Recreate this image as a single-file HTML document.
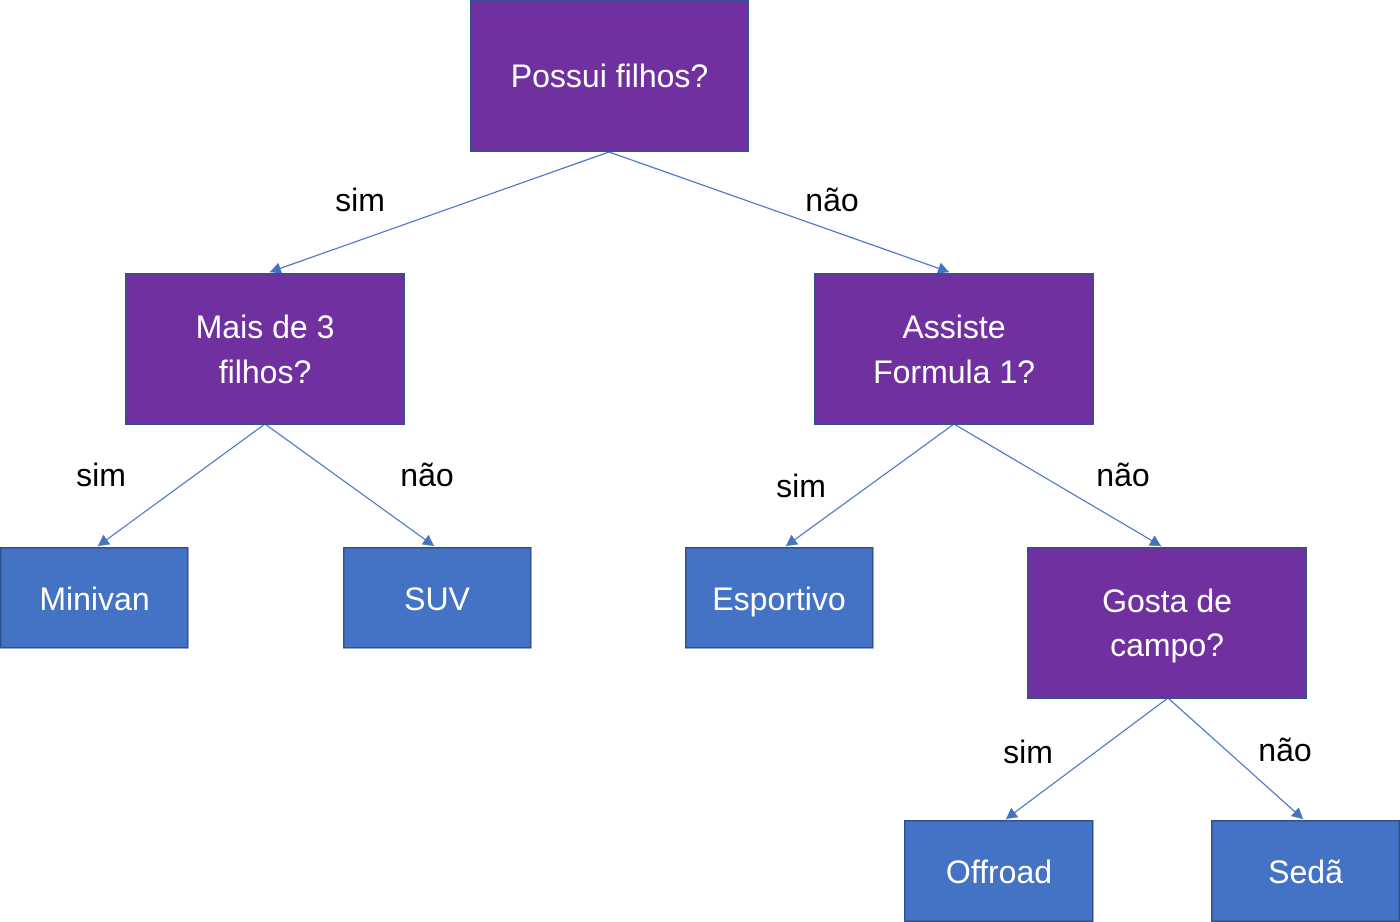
<!DOCTYPE html>
<html>
<head>
<meta charset="utf-8">
<style>
  html, body { margin: 0; padding: 0; background: #ffffff; }
  svg { display: block; }
  .box-p { fill: #7030A0; stroke: #2F528F; stroke-width: 1.5; }
  .box-b { fill: #4472C4; stroke: #2F528F; stroke-width: 1.5; }
  .t { font-family: "Liberation Sans", sans-serif; font-size: 32px; fill: #ffffff; text-anchor: middle; }
  .l { font-family: "Liberation Sans", sans-serif; font-size: 32px; fill: #000000; text-anchor: middle; }
  .e { stroke: #4472C4; stroke-width: 1.2; fill: none; }
</style>
</head>
<body>
<svg width="1400" height="922" viewBox="0 0 1400 922" xmlns="http://www.w3.org/2000/svg">
  <defs>
    <marker id="ah" markerWidth="12" markerHeight="12" refX="11" refY="6" orient="auto" markerUnits="userSpaceOnUse">
      <path d="M0,0 L11,6 L0,12 Z" fill="#4472C4"/>
    </marker>
  </defs>

  <!-- edges -->
  <line class="e" x1="609" y1="152" x2="270" y2="272" marker-end="url(#ah)"/>
  <line class="e" x1="609" y1="152" x2="949" y2="272" marker-end="url(#ah)"/>
  <line class="e" x1="265" y1="424" x2="98" y2="546" marker-end="url(#ah)"/>
  <line class="e" x1="265" y1="424" x2="434" y2="546" marker-end="url(#ah)"/>
  <line class="e" x1="954" y1="424" x2="786" y2="546" marker-end="url(#ah)"/>
  <line class="e" x1="954" y1="424" x2="1161" y2="546" marker-end="url(#ah)"/>
  <line class="e" x1="1168" y1="698" x2="1006" y2="819" marker-end="url(#ah)"/>
  <line class="e" x1="1168" y1="698" x2="1303" y2="819" marker-end="url(#ah)"/>

  <!-- boxes -->
  <rect class="box-p" x="470.75" y="0.75" width="277.5" height="150.5"/>
  <rect class="box-p" x="125.75" y="273.75" width="278.5" height="150.5"/>
  <rect class="box-p" x="814.75" y="273.75" width="278.5" height="150.5"/>
  <rect class="box-b" x="0.75" y="547.75" width="187" height="100"/>
  <rect class="box-b" x="343.75" y="547.75" width="187" height="100"/>
  <rect class="box-b" x="685.75" y="547.75" width="187" height="100"/>
  <rect class="box-p" x="1027.75" y="547.75" width="278.5" height="150.5"/>
  <rect class="box-b" x="904.75" y="820.75" width="188" height="100.5"/>
  <rect class="box-b" x="1211.75" y="820.75" width="187.5" height="100.5"/>

  <!-- box text -->
  <text class="t" x="609.5" y="87">Possui filhos?</text>
  <text class="t" x="265" y="338">Mais de 3</text>
  <text class="t" x="265" y="383">filhos?</text>
  <text class="t" x="954" y="338">Assiste</text>
  <text class="t" x="954" y="383">Formula 1?</text>
  <text class="t" x="94.5" y="610">Minivan</text>
  <text class="t" x="437" y="610">SUV</text>
  <text class="t" x="779" y="610">Esportivo</text>
  <text class="t" x="1167" y="612">Gosta de</text>
  <text class="t" x="1167" y="656">campo?</text>
  <text class="t" x="999" y="883">Offroad</text>
  <text class="t" x="1305.5" y="883">Sedã</text>

  <!-- edge labels -->
  <text class="l" x="360" y="211">sim</text>
  <text class="l" x="832" y="211">não</text>
  <text class="l" x="101" y="486">sim</text>
  <text class="l" x="427" y="486">não</text>
  <text class="l" x="801" y="497">sim</text>
  <text class="l" x="1123" y="486">não</text>
  <text class="l" x="1028" y="763">sim</text>
  <text class="l" x="1285" y="761">não</text>
</svg>
</body>
</html>
